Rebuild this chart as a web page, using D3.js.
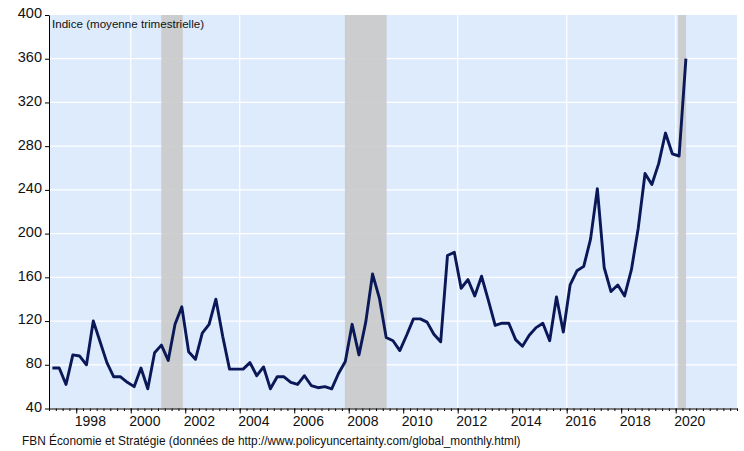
<!DOCTYPE html>
<html lang="fr">
<head>
<meta charset="UTF-8">
<title>Indice d'incertitude</title>
<script src="https://d3js.org/d3.v7.min.js"></script>
<style>
    body { margin: 0; background: #fff; font-family: "Liberation Sans", Arial, sans-serif; }
    svg { display: block; }
    .axis path, .axis line { stroke: #000; }
    .axis text { fill: #111; font-family: "Liberation Sans", Arial, sans-serif; }
</style>
</head>
<body>
<svg width="744" height="451"></svg>
<script>
// quarterly series, first value = 1997 Q1
const startYear = 1997;
const values = [
    77, 77, 62, 89,      // 1997
    88, 80, 120, 101,    // 1998
    82, 69, 69, 64,      // 1999
    60, 77, 58, 91,      // 2000
    98, 84, 117, 133,    // 2001
    92, 85, 109, 117,    // 2002
    140, 106, 76, 76,    // 2003
    76, 82, 70, 78,      // 2004
    58, 69, 69, 64,      // 2005
    62, 70, 61, 59,      // 2006
    60, 58, 72, 83,      // 2007
    117, 89, 119, 163,   // 2008
    141, 105, 102, 93,   // 2009
    107, 122, 122, 119,  // 2010
    108, 101, 180, 183,  // 2011
    150, 158, 143, 161,  // 2012
    139, 116, 118, 118,  // 2013
    103, 97, 107, 114,   // 2014
    118, 102, 142, 110,  // 2015
    153, 166, 170, 195,  // 2016
    241, 169, 147, 153,  // 2017
    143, 167, 205, 255,  // 2018
    245, 264, 292, 273,  // 2019
    271, 360             // 2020
];
// shaded recessions (start, end) in fractional years
const recessionStart = [2001.12, 2007.86, 2020.09];
const recessionEnd = [2001.91, 2009.39, 2020.38];
const yTicks = [40, 80, 120, 160, 200, 240, 280, 320, 360, 400];
const yearLabels = [1998, 2000, 2002, 2004, 2006, 2008, 2010, 2012, 2014, 2016, 2018, 2020];
const gridYears = [2000, 2004, 2008, 2012, 2016, 2020];
const titleText = "Indice (moyenne trimestrielle)";
const sourceText = "FBN Économie et Stratégie (données de http://www.policyuncertainty.com/global_monthly.html)";

const margin = { top: 15, right: 7, bottom: 42.5, left: 49 };
const width = 744, height = 451;
const svg = d3.select("svg");

const x = d3.scaleLinear()
    .domain([1997, 2022.25])
    .range([margin.left, width - margin.right]);
const y = d3.scaleLinear()
    .domain([40, 400])
    .range([height - margin.bottom, margin.top]);

// plot background
svg.append("rect")
    .attr("x", x(1997)).attr("y", y(400))
    .attr("width", x(2022.25) - x(1997))
    .attr("height", y(40) - y(400))
    .attr("fill", "#deebfc");

// grid
svg.append("g").selectAll("line")
    .data(yTicks.slice(1, -1))
    .join("line")
    .attr("x1", x(1997)).attr("x2", x(2022.25))
    .attr("y1", d => y(d)).attr("y2", d => y(d))
    .attr("stroke", "#fff").attr("stroke-width", 1.2);
svg.append("g").selectAll("line")
    .data(gridYears)
    .join("line")
    .attr("x1", d => x(d)).attr("x2", d => x(d))
    .attr("y1", y(400)).attr("y2", y(40))
    .attr("stroke", "#fff").attr("stroke-width", 1.2);

// recession bands
svg.append("g").selectAll("rect")
    .data(recessionStart.map((s, i) => [s, recessionEnd[i]]))
    .join("rect")
    .attr("x", d => x(d[0]))
    .attr("y", y(400))
    .attr("width", d => x(d[1]) - x(d[0]))
    .attr("height", y(40) - y(400))
    .attr("fill", "#c8c8c8")
    .attr("opacity", 0.88);

// series
const line = d3.line()
    .x((d, i) => x(startYear + (i + 0.5) / 4))
    .y(d => y(d));
svg.append("path")
    .datum(values)
    .attr("d", line)
    .attr("fill", "none")
    .attr("stroke", "#0b1858")
    .attr("stroke-width", 2.9)
    .attr("stroke-linejoin", "round");

// y axis
svg.append("g")
    .attr("class", "axis")
    .attr("transform", `translate(${margin.left},0)`)
    .call(d3.axisLeft(y).tickValues(yTicks).tickSize(4).tickSizeOuter(0).tickPadding(3))
    .call(g => g.selectAll("text").attr("font-size", 14.5).attr("dy", "0.2em"));

// x axis: quarterly minor ticks, long ticks on even years, labels mid-year
const quarters = d3.range(1997, 2022.26, 0.25);
svg.append("g")
    .attr("class", "axis")
    .attr("transform", `translate(0,${y(40)})`)
    .call(d3.axisBottom(x).tickValues(quarters).tickSize(2.5).tickSizeOuter(0).tickFormat(""));
svg.append("g")
    .attr("class", "axis")
    .attr("transform", `translate(0,${y(40)})`)
    .call(d3.axisBottom(x).tickValues(yearLabels).tickSize(5).tickSizeOuter(0).tickFormat(""))
    .call(g => g.select(".domain").remove());
svg.append("g")
    .attr("class", "axis")
    .attr("transform", `translate(0,${y(40)})`)
    .call(d3.axisBottom(x).tickValues(yearLabels.map(d => d + 0.5)).tickSize(0).tickPadding(8)
        .tickFormat(d => Math.floor(d)))
    .call(g => g.select(".domain").remove())
    .call(g => g.selectAll("text").attr("font-size", 14));

// texts
svg.append("text")
    .attr("x", 52).attr("y", 28)
    .attr("font-size", 11.6)
    .attr("fill", "#111")
    .text(titleText);
svg.append("text")
    .attr("x", 22).attr("y", 445)
    .attr("font-size", 11.85)
    .attr("fill", "#111")
    .text(sourceText);
</script>
</body>
</html>
